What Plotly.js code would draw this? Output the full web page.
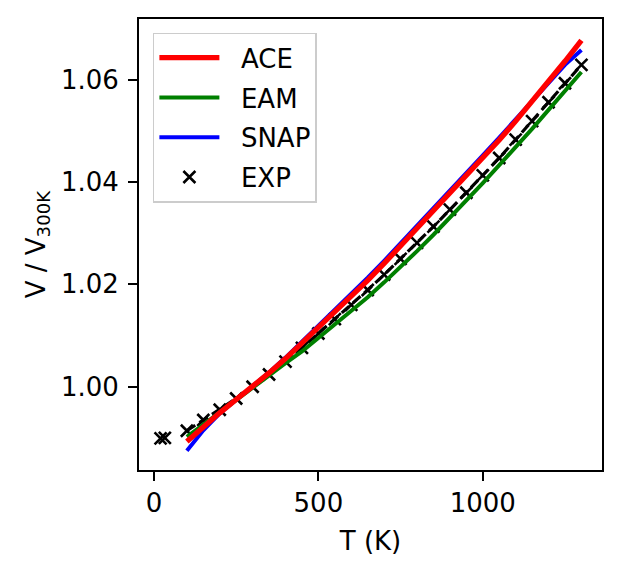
<!DOCTYPE html>
<html>
<head>
<meta charset="utf-8">
<script src="https://cdn.plot.ly/plotly-3.0.1.min.js"></script>
<style>html,body{margin:0;padding:0;background:#fff;}#plot{width:623px;height:575px;}</style>
</head>
<body>
<div id="plot"></div>
<script>
// Temperatures (K) for model curves
const T_model = [100,150,200,250,300,350,400,450,500,550,600,650,700,750,800,850,900,950,1000,1050,1100,1150,1200,1250,1300];
const ace  = [0.9893,0.9922,0.9949,0.9975,1.0000,1.0027,1.0055,1.0085,1.0115,1.0145,1.0176,1.0208,1.0241,1.0275,1.0309,1.0343,1.0377,1.0412,1.0447,1.0482,1.0519,1.0557,1.0596,1.0636,1.0677];
const eam  = [0.9902,0.9926,0.9951,0.9975,1.0000,1.0023,1.0046,1.0069,1.0095,1.0121,1.0147,1.0175,1.0204,1.0234,1.0265,1.0297,1.0330,1.0364,1.0398,1.0433,1.0468,1.0504,1.0541,1.0578,1.0615];
const snap = [0.9875,0.9915,0.9948,0.9975,1.0000,1.0028,1.0057,1.0088,1.0119,1.0150,1.0181,1.0213,1.0246,1.0280,1.0314,1.0348,1.0382,1.0417,1.0452,1.0487,1.0523,1.0559,1.0594,1.0629,1.0658];
// Experimental data
const T_exp = [20,33,100,150,200,250,300,350,400,450,500,550,600,650,700,750,800,850,900,950,1000,1050,1100,1150,1200,1250,1300];
const v_exp = [0.9899,0.9900,0.9914,0.9935,0.9955,0.9977,1.0000,1.0024,1.0049,1.0076,1.0104,1.0132,1.0160,1.0189,1.0219,1.0250,1.0281,1.0313,1.0346,1.0379,1.0413,1.0447,1.0483,1.0519,1.0556,1.0593,1.0629];
const xTicks = [0,500,1000];
const yTicks = [1.00,1.02,1.04,1.06];

const FONT = 'DejaVu Sans, Liberation Sans, sans-serif';
const PAD = '\u00a0\u00a0';
const traces = [
  {x:T_exp, y:v_exp, mode:'markers', name:PAD+'EXP', legendgroup:'exp', legendrank:4,
   marker:{symbol:'x-thin', size:12, color:'black', line:{color:'black', width:2.6}}},
  {x:T_exp.slice(2), y:v_exp.slice(2), mode:'lines', showlegend:false, hoverinfo:'skip',
   line:{color:'black', width:3.2, dash:'10px,5px'}},
  {x:T_model, y:snap, mode:'lines', name:PAD+'SNAP', legendgroup:'snap', legendrank:3, line:{color:'#0000ff', width:4}},
  {x:T_model, y:eam, mode:'lines', name:PAD+'EAM', legendgroup:'eam', legendrank:2, line:{color:'#008000', width:4}},
  {x:T_model, y:ace, mode:'lines', name:PAD+'ACE', legendgroup:'ace', legendrank:1, line:{color:'#ff0000', width:5.3}}
];
const axisCommon = {showgrid:false, zeroline:false, showline:true, mirror:true, linecolor:'black', linewidth:2,
  ticks:'outside', ticklen:9, tickwidth:2, tickcolor:'black', tickfont:{family:FONT, size:26, color:'black'}};
const layout = {
  width:623, height:575,
  margin:{l:139, r:21, t:19, b:105},
  paper_bgcolor:'white', plot_bgcolor:'white',
  font:{family:FONT, size:26, color:'black'},
  showlegend:true,
  legend:{x:0.03, y:0.9696, xanchor:'left', yanchor:'top', bgcolor:'white', bordercolor:'#cccccc', borderwidth:1.5,
    traceorder:'grouped', tracegroupgap:3, itemwidth:60, font:{family:FONT, size:26, color:'black'}},
  xaxis:Object.assign({}, axisCommon, {range:[-45.6,1362.6], tickvals:xTicks, ticktext:xTicks.map(String),
    title:{text:'T (K)', font:{family:FONT, size:26, color:'black'}, standoff:15}}),
  yaxis:Object.assign({}, axisCommon, {range:[0.98373,1.07186], tickvals:yTicks, ticktext:yTicks.map(v=>v.toFixed(2)),
    ticklabelstandoff:4,
    title:{text:'V / V<sub>300K</sub>', font:{family:FONT, size:26, color:'black'}, standoff:8}})
};
Plotly.newPlot('plot', traces, layout, {staticPlot:true, displayModeBar:false});
</script>
</body>
</html>
